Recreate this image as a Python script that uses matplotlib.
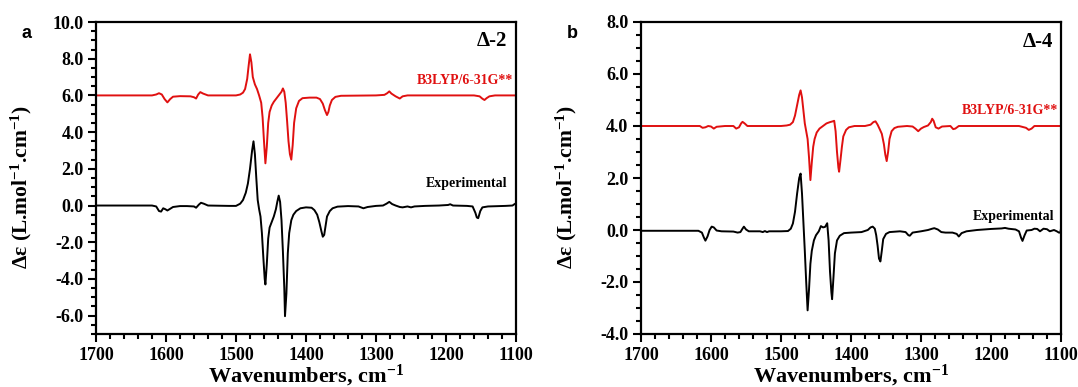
import matplotlib
matplotlib.use("Agg")
import matplotlib.pyplot as plt
from matplotlib.ticker import MultipleLocator, FormatStrFormatter

SERIF = ["Liberation Serif", "DejaVu Serif"]
plt.rcParams["font.family"] = SERIF
plt.rcParams["font.weight"] = "bold"
plt.rcParams["axes.labelweight"] = "bold"
plt.rcParams["mathtext.fontset"] = "custom"
plt.rcParams["mathtext.rm"] = "Liberation Serif:bold"
plt.rcParams["mathtext.bf"] = "Liberation Serif:bold"
plt.rcParams["mathtext.it"] = "Liberation Serif:bold:italic"
plt.rcParams["mathtext.default"] = "bf"

# ---------------- data ----------------
# Panel a : Delta-2
a_calc_wn = [1700, 1620, 1614, 1610, 1606, 1602, 1598, 1594, 1590, 1580, 1565, 1560, 1557, 1554, 1551, 1547, 1540,
             1500, 1494, 1490, 1487, 1484, 1482, 1480, 1478, 1476, 1473, 1470, 1467, 1464, 1462, 1460, 1458, 1456,
             1454, 1452, 1449, 1446, 1442, 1438, 1435, 1433, 1431, 1429, 1427, 1425, 1423, 1421, 1419, 1417, 1414,
             1410, 1405, 1395, 1385, 1380, 1376, 1373, 1370, 1368, 1366, 1363, 1358, 1350, 1300, 1288, 1284, 1281,
             1278, 1272, 1266, 1262, 1255, 1160, 1152, 1148, 1145, 1142, 1138, 1130, 1100]
a_calc_de = [6.0, 6.0, 6.05, 6.12, 6.05, 5.8, 5.62, 5.8, 5.93, 5.96, 5.95, 5.9, 5.83, 6.05, 6.18, 6.1, 6.0,
             6.0, 6.05, 6.15, 6.35, 6.9, 7.6, 8.24, 7.8, 7.0, 6.6, 6.35, 6.0, 5.6, 4.8, 3.5, 2.3, 3.2,
             4.5, 5.1, 5.45, 5.65, 5.85, 6.05, 6.2, 6.38, 6.2, 5.6, 4.6, 3.5, 2.8, 2.5, 3.3, 4.5, 5.3,
             5.7, 5.85, 5.88, 5.88, 5.8, 5.55, 5.2, 4.93, 5.1, 5.45, 5.75, 5.92, 5.98, 6.0, 6.03, 6.12, 6.22,
             6.1, 5.95, 5.83, 5.95, 6.0, 6.0, 5.95, 5.82, 5.75, 5.85, 5.95, 6.0, 6.0]

a_exp_wn = [1700, 1620, 1614, 1610, 1607, 1604, 1601, 1598, 1595, 1590, 1580, 1570, 1560, 1557, 1553, 1550, 1546,
            1540, 1510, 1500, 1494, 1490, 1486, 1483, 1480, 1477, 1475, 1473, 1471, 1469, 1467, 1465, 1463, 1461,
            1459, 1458, 1456, 1454, 1452, 1449, 1446, 1443, 1441, 1439, 1437, 1435, 1433, 1431, 1430, 1428, 1426,
            1424, 1421, 1418, 1414, 1408, 1400, 1392, 1388, 1384, 1381, 1378, 1376, 1374, 1372, 1370, 1366, 1362,
            1355, 1340, 1325, 1318, 1312, 1300, 1290, 1285, 1281, 1277, 1272, 1266, 1262, 1255, 1250, 1245, 1230,
            1210, 1197, 1194, 1190, 1170, 1162, 1158, 1156, 1154, 1151, 1148, 1140, 1115, 1105, 1102, 1100]
a_exp_de = [0.0, 0.0, -0.05, -0.3, -0.33, -0.15, -0.2, -0.27, -0.2, -0.08, -0.03, -0.03, -0.05, -0.12, 0.05, 0.15, 0.1,
            0.0, -0.02, -0.02, 0.1, 0.3, 0.7, 1.2, 2.0, 3.0, 3.5, 2.8, 1.5, 0.3, -0.2, -0.6, -1.5, -2.8,
            -4.0, -4.3, -3.2, -1.8, -1.2, -0.9, -0.6, -0.2, 0.2, 0.54, 0.2, -0.8, -2.5, -4.5, -6.03, -4.8, -2.6,
            -1.5, -0.8, -0.5, -0.3, -0.15, -0.1, -0.12, -0.25, -0.5, -0.9, -1.4, -1.7, -1.6, -1.1, -0.6, -0.3, -0.15,
            -0.06, -0.03, -0.05, -0.15, -0.08, -0.02, 0.0, 0.1, 0.2, 0.08, 0.0, -0.08, -0.1, -0.05, -0.1, -0.05, -0.02,
            0.0, 0.03, 0.07, 0.0, -0.02, -0.05, -0.4, -0.65, -0.69, -0.3, -0.1, -0.05, -0.02, 0.0, 0.08, 0.12]

# Panel b : Delta-4
b_calc_wn = [1700, 1616, 1612, 1608, 1604, 1600, 1596, 1592, 1580, 1568, 1564, 1560, 1557, 1555, 1552, 1548, 1540,
             1500, 1492, 1487, 1483, 1480, 1477, 1474, 1472, 1470, 1468, 1466, 1464, 1462, 1460, 1458, 1456, 1454,
             1452, 1449, 1445, 1440, 1435, 1430, 1426, 1424, 1422, 1420, 1418, 1417, 1415, 1413, 1411, 1407, 1403,
             1395, 1380, 1372, 1368, 1365, 1362, 1359, 1356, 1353, 1351, 1349, 1347, 1345, 1342, 1338, 1333, 1320,
             1312, 1308, 1304, 1300, 1296, 1290, 1286, 1284, 1282, 1279, 1275, 1270, 1258, 1254, 1251, 1246, 1160,
             1150, 1146, 1142, 1138, 1100]
b_calc_de = [4.0, 4.0, 3.93, 3.95, 4.0, 3.98, 3.9, 3.97, 4.0, 4.0, 3.9, 3.95, 4.1, 4.16, 4.1, 4.0, 4.0,
             4.0, 4.02, 4.05, 4.15, 4.4, 4.8, 5.2, 5.37, 5.1, 4.6, 4.1, 3.8, 3.5, 2.8, 1.92, 2.6, 3.2,
             3.5, 3.75, 3.9, 4.0, 4.1, 4.15, 4.18, 4.2, 3.8, 3.0, 2.4, 2.24, 2.7, 3.2, 3.6, 3.85, 3.95,
             4.0, 4.0, 4.05, 4.15, 4.18, 4.05, 3.88, 3.7, 3.3, 2.9, 2.65, 3.0, 3.5, 3.8, 3.92, 3.97, 4.0,
             3.98, 3.9, 3.8, 3.9, 3.96, 4.02, 4.15, 4.28, 4.2, 3.95, 3.9, 3.98, 4.0, 3.88, 3.9, 4.0, 4.0,
             3.93, 3.85, 3.9, 4.0, 4.0]

b_exp_wn = [1700, 1618, 1613, 1610, 1608, 1605, 1602, 1599, 1596, 1592, 1585, 1568, 1562, 1558, 1555, 1553, 1550,
            1546, 1530, 1526, 1523, 1520, 1517, 1500, 1490, 1486, 1483, 1480, 1477, 1474, 1472, 1470, 1468, 1466,
            1464, 1462, 1460, 1458, 1456, 1453, 1450, 1446, 1443, 1440, 1437, 1434, 1432, 1430, 1428, 1427, 1425,
            1423, 1420, 1416, 1410, 1400, 1385, 1376, 1372, 1369, 1366, 1364, 1362, 1360, 1358, 1356, 1354, 1350,
            1345, 1330, 1322, 1318, 1316, 1312, 1300, 1290, 1284, 1281, 1276, 1271, 1265, 1255, 1249, 1246, 1242,
            1235, 1220, 1200, 1185, 1180, 1175, 1165, 1160, 1157, 1155, 1152, 1149, 1142, 1138, 1134, 1130, 1125,
            1120, 1116, 1110, 1106, 1103, 1101, 1100]
b_exp_de = [-0.03, -0.03, -0.1, -0.3, -0.41, -0.25, 0.0, 0.13, 0.1, -0.02, -0.05, -0.06, -0.1, -0.08, 0.05, 0.13, 0.02,
            -0.05, -0.05, -0.08, -0.04, -0.08, -0.05, -0.05, -0.04, 0.05, 0.25, 0.7, 1.4, 2.0, 2.17, 1.4, 0.3, -0.8,
            -2.0, -3.09, -2.3, -1.3, -0.8, -0.4, -0.2, -0.05, 0.15, 0.1, 0.12, 0.26, -0.4, -1.6, -2.4, -2.66, -1.8,
            -0.9, -0.4, -0.22, -0.12, -0.1, -0.08, 0.0, 0.1, 0.13, 0.05, -0.2, -0.6, -1.1, -1.21, -0.8, -0.35, -0.15,
            -0.08, -0.05, -0.08, -0.2, -0.22, -0.1, -0.05, 0.0, 0.05, 0.07, 0.02, -0.08, -0.1, -0.1, -0.15, -0.25, -0.12,
            -0.05, 0.0, 0.04, 0.06, 0.08, 0.05, 0.02, -0.05, -0.3, -0.42, -0.2, -0.02, 0.0, 0.05, 0.04, -0.05, 0.05,
            0.03, -0.05, 0.0, -0.05, -0.1, -0.1, 0.05]

panel_letters = ["a", "b"]
isomer_titles = ["\u0394-2", "\u0394-4"]
calc_label = "B3LYP/6-31G**"
exp_label = "Experimental"
y_limits = [(-7.0, 10.0), (-4.0, 8.0)]

# ---------------- figure ----------------
W, H = 1078, 387
fig = plt.figure(figsize=(W / 100, H / 100), dpi=100)

RED = "#e01010"

def px(x0, y0, x1, y1):
    return [x0 / W, 1 - y1 / H, (x1 - x0) / W, (y1 - y0) / H]

axes_boxes = [px(96, 22, 516, 334), px(641, 22, 1061, 334)]
calc_pos = [(513, 80), (1058, 110)]
exp_pos = [(507, 184), (1054, 217)]
title_pos = [(507, 41), (1053, 42)]
letter_pos = [(27, 34), (572, 34)]

series = [(a_calc_wn, a_calc_de, a_exp_wn, a_exp_de), (b_calc_wn, b_calc_de, b_exp_wn, b_exp_de)]

for i in range(2):
    ax = fig.add_axes(axes_boxes[i])
    cw, cd, ew, ed = series[i]
    ax.plot(cw, cd, color=RED, lw=1.4)
    ax.plot(ew, ed, color="black", lw=1.4)
    ax.set_xlim(1700, 1100)
    ax.set_ylim(*y_limits[i])
    ax.xaxis.set_major_locator(MultipleLocator(100))
    ax.xaxis.set_minor_locator(MultipleLocator(20))
    ax.yaxis.set_major_locator(MultipleLocator(2))
    ax.yaxis.set_minor_locator(MultipleLocator(0.5))
    ax.yaxis.set_major_formatter(FormatStrFormatter("%.1f"))
    ax.tick_params(which="both", direction="out", width=1.5, top=False, right=False, labelsize=13)
    ax.tick_params(which="major", length=6, pad=3)
    ax.tick_params(which="minor", length=3.5)
    for lab in ax.get_xticklabels() + ax.get_yticklabels():
        lab.set_fontfamily(SERIF)
        lab.set_fontweight("bold")
    for s in ax.spines.values():
        s.set_linewidth(1.6)
    ax.set_xlabel("Wavenumbers, cm$^{-1}$", fontsize=16, fontweight="bold", va="top")
    ax.xaxis.set_label_coords(0.5, -0.092)
    ax.set_ylabel("\u0394\u03b5 (L.mol$^{-1}$.cm$^{-1}$)", fontsize=15.5, fontweight="bold")
    ax.yaxis.set_label_coords(-0.148, 0.47)

    fig.text(title_pos[i][0] / W, 1 - title_pos[i][1] / H, isomer_titles[i],
             fontsize=15, fontweight="bold", ha="right", va="center")
    fig.text(calc_pos[i][0] / W, 1 - calc_pos[i][1] / H, calc_label,
             fontsize=10, fontweight="bold", ha="right", va="center", color=RED)
    fig.text(exp_pos[i][0] / W, 1 - exp_pos[i][1] / H, exp_label,
             fontsize=10, fontweight="bold", ha="right", va="center", color="black")
    fig.text(letter_pos[i][0] / W, 1 - letter_pos[i][1] / H, panel_letters[i], family="Liberation Sans",
             fontweight="bold", fontsize=13, ha="center", va="center")

fig.savefig("out.png", dpi=100)
